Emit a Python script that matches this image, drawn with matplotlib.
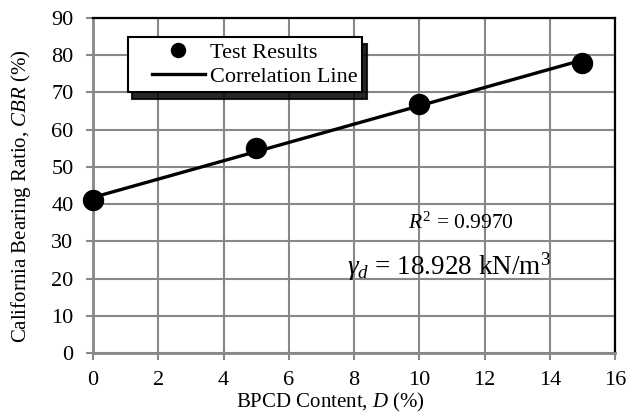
import numpy as np
import matplotlib
matplotlib.use("Agg")
import matplotlib.pyplot as plt
from matplotlib.lines import Line2D
from matplotlib.legend_handler import HandlerLine2D

# Data
bpcd = [0, 5, 10, 15]
cbr = [41, 55, 67, 78]
x_ticks = [0, 2, 4, 6, 8, 10, 12, 14, 16]
y_ticks = [0, 10, 20, 30, 40, 50, 60, 70, 80, 90]

plt.rcParams['font.family'] = ['Liberation Serif', 'DejaVu Serif']
plt.rcParams['mathtext.fontset'] = 'custom'
plt.rcParams['mathtext.rm'] = 'Liberation Serif'
plt.rcParams['mathtext.it'] = 'Liberation Serif:italic'

GRID = '#888888'

fig = plt.figure(figsize=(6.29, 4.18), dpi=100)
ax = fig.add_axes([93 / 629, 65 / 418, 522 / 629, 335 / 418])

coef = np.polyfit(bpcd, cbr, 1)
xl = np.array([min(bpcd), max(bpcd)])
ax.plot(xl, np.polyval(coef, xl), color='black', lw=2.4, label='Correlation Line', zorder=3)
ax.plot(bpcd, cbr, 'o', color='black', ms=14.4, label='Test Results', zorder=4, clip_on=False)

ax.set_xlim(0, 16)
ax.set_ylim(0, 90)
ax.set_xticks(x_ticks)
ax.set_yticks(y_ticks)
ax.grid(True, color=GRID, lw=1.5)
ax.set_axisbelow(True)
for s in ['left', 'bottom']:
    ax.spines[s].set_color(GRID)
    ax.spines[s].set_linewidth(2.0)
for s in ['top', 'right']:
    ax.spines[s].set_color('black')
    ax.spines[s].set_linewidth(1.6)
ax.tick_params(axis='both', direction='out', length=5, width=1.5, color=GRID,
               labelsize=16)
ax.tick_params(axis='y', pad=9)
ax.tick_params(axis='x', pad=8)

ax.set_xlabel('BPCD Content, $D$ (%)', fontsize=15)
ax.set_ylabel('California Bearing Ratio, $CBR$ (%)', fontsize=15)
ax.xaxis.set_label_coords(0.454, -0.113)
ax.yaxis.set_label_coords(-0.115, 0.469)

h, l = ax.get_legend_handles_labels()
leg = ax.legend([h[1], h[0]], [l[1], l[0]], loc='upper left',
                bbox_to_anchor=(0.067, 0.943), borderaxespad=0,
                fontsize=16, handlelength=3.245, handletextpad=0.225,
                fancybox=False, edgecolor='black', framealpha=1,
                borderpad=0.22, labelspacing=0.18, markerscale=0.7,
                handler_map={Line2D: HandlerLine2D(xpad=0.857)},
                shadow={'ox': 3, 'oy': -5, 'color': 'black', 'alpha': 0.85})
leg.get_frame().set_linewidth(1.5)

ax.text(9.66, 33.3, '$R^2$ = 0.9970', fontsize=15.5, va='baseline', ha='left')
ax.text(7.79, 21.1, r'$\gamma_d$ = 18.928 kN/m$^3$', fontsize=19.5, va='baseline', ha='left')

fig.savefig('out.png', dpi=100)
